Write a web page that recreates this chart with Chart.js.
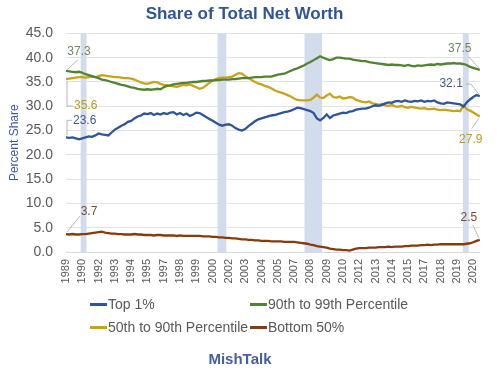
<!DOCTYPE html>
<html>
<head>
<meta charset="utf-8">
<script src="https://cdn.jsdelivr.net/npm/chart.js@4/dist/chart.umd.min.js"></script>
<style>
  html,body{margin:0;padding:0;background:#fff;}
  #wrap{position:relative;width:500px;height:378px;overflow:hidden;font-family:"Liberation Sans",Arial,sans-serif;}
  #c{position:absolute;left:0;top:0;}
  .lg{position:absolute;height:20px;line-height:20px;font-size:14px;color:#595959;white-space:nowrap;}
  .lg i{display:inline-block;width:17px;height:3px;vertical-align:middle;margin-right:1px;position:relative;top:-1px;}
  #mish{position:absolute;left:0;width:480px;top:350px;text-align:center;font-weight:bold;font-size:15px;color:#44609E;}
</style>
</head>
<body>
<div id="wrap">
  <canvas id="c" width="500" height="378"></canvas>
  <div class="lg" style="left:90px;top:294px;"><i style="background:#2F5597"></i>Top 1%</div>
  <div class="lg" style="left:250px;top:294px;"><i style="background:#548235"></i>90th to 99th Percentile</div>
  <div class="lg" style="left:90px;top:317px;"><i style="background:#C9A31C"></i>50th to 90th Percentile</div>
  <div class="lg" style="left:250px;top:317px;"><i style="background:#843C0C"></i>Bottom 50%</div>
  <div id="mish">MishTalk</div>
</div>
<script>
// ---- categories (quarters 1989 Q3 .. 2021 Q2) ----
const quarters = [];
for (let y = 1989; y <= 2021; y++) {
  for (let q = 1; q <= 4; q++) {
    if (y === 1989 && q < 3) continue;
    if (y === 2021 && q > 2) continue;
    quarters.push(y + ' Q' + q);
  }
}
// tick labels shown every 5th quarter
const tickLabels = ['1989','1990','1992','1993','1994','1995','1997','1998','1999','2000','2002','2003','2004','2005','2007','2008','2009','2010','2012','2013','2014','2015','2017','2018','2019','2020'];

// ---- series values (percent share) ----
const top1 = [
  23.6,23.5,23.6,23.4,23.2,23.4,23.6,23.8,23.7,24.0,
  24.4,24.2,24.1,24.0,24.6,25.2,25.6,26.0,26.3,26.8,
  27.0,27.5,27.9,28.1,28.5,28.4,28.6,28.2,28.5,28.3,
  28.6,28.4,28.7,28.8,28.3,28.6,28.2,28.5,28.0,28.3,
  28.7,28.6,28.2,27.8,27.4,27.0,26.6,26.2,26.0,26.2,
  26.3,26.0,25.5,25.2,25.0,25.3,25.9,26.4,26.9,27.3,
  27.5,27.7,27.9,28.1,28.2,28.4,28.6,28.8,28.9,29.1,
  29.4,29.7,29.6,29.4,29.2,29.0,28.6,27.5,27.1,27.6,
  28.3,27.6,28.1,28.3,28.5,28.7,28.6,28.9,29.0,29.3,
  29.4,29.5,29.5,29.7,30.0,30.2,30.1,30.3,30.6,30.8,
  30.7,31.0,31.1,30.9,31.2,31.0,30.9,31.1,31.0,31.2,
  30.9,31.1,31.0,31.2,30.8,30.6,30.5,30.8,30.7,30.6,
  30.5,30.4,29.9,30.8,31.4,31.9,32.3,32.1
];
const p90to99 = [
  37.3,37.2,37.1,37.0,37.1,36.9,36.6,36.4,36.2,36.0,
  35.8,35.5,35.4,35.2,35.0,34.8,34.6,34.4,34.3,34.1,
  33.9,33.8,33.6,33.5,33.4,33.5,33.4,33.5,33.6,33.5,
  33.9,34.2,34.3,34.5,34.6,34.7,34.8,34.8,34.9,35.0,
  35.0,35.1,35.2,35.2,35.3,35.3,35.4,35.4,35.5,35.5,
  35.5,35.6,35.6,35.7,35.8,35.8,35.8,35.9,36.0,36.0,
  36.0,36.1,36.1,36.1,36.3,36.5,36.6,36.7,37.0,37.3,
  37.6,37.8,38.1,38.4,38.8,39.1,39.5,39.9,40.3,40.0,
  39.7,39.5,39.7,40.0,40.0,39.9,39.8,39.8,39.6,39.5,
  39.4,39.3,39.3,39.1,39.0,38.9,38.8,38.7,38.6,38.5,
  38.6,38.5,38.5,38.4,38.3,38.5,38.3,38.2,38.4,38.3,
  38.4,38.5,38.6,38.5,38.7,38.6,38.7,38.8,38.8,38.9,
  38.8,38.8,38.7,38.5,38.1,37.9,37.7,37.5
];
const p50to90 = [
  35.6,35.7,35.8,35.9,36.0,36.0,35.9,36.0,36.1,36.0,
  36.2,36.4,36.3,36.2,36.1,36.0,36.0,35.9,35.8,35.8,
  35.7,35.5,35.2,34.9,34.7,34.6,34.8,35.0,34.9,34.6,
  34.4,34.3,34.2,34.1,34.0,34.2,34.4,34.3,34.5,34.2,
  33.9,33.6,33.8,34.3,34.8,35.3,35.6,35.8,35.9,35.9,
  36.0,36.1,36.5,36.8,36.7,36.2,35.8,35.4,35.0,34.7,
  34.5,34.2,34.0,33.7,33.3,33.0,32.8,32.6,32.3,32.0,
  31.6,31.3,31.2,31.2,31.2,31.3,31.8,32.4,31.8,31.7,
  32.2,32.6,31.9,31.8,32.0,31.6,31.7,31.9,31.8,31.3,
  31.1,30.9,30.8,31.0,30.6,30.5,30.3,30.5,30.2,30.1,
  30.3,30.0,29.9,30.1,29.8,29.7,29.9,29.7,29.6,29.5,
  29.6,29.4,29.4,29.5,29.3,29.2,29.3,29.2,29.1,29.0,
  29.1,29.0,30.2,29.4,29.1,28.7,28.3,27.9
];
const bottom50 = [
  3.7,3.6,3.7,3.6,3.6,3.7,3.7,3.8,3.9,4.0,
  4.1,4.2,4.0,3.9,3.8,3.8,3.7,3.7,3.6,3.6,
  3.6,3.7,3.6,3.6,3.5,3.5,3.5,3.4,3.5,3.5,
  3.4,3.4,3.4,3.4,3.3,3.4,3.3,3.3,3.3,3.3,
  3.3,3.3,3.2,3.2,3.2,3.1,3.1,3.0,3.0,2.9,
  2.9,2.8,2.8,2.7,2.6,2.6,2.5,2.5,2.4,2.4,
  2.3,2.3,2.3,2.2,2.2,2.2,2.2,2.1,2.1,2.1,
  2.1,2.0,1.9,1.8,1.7,1.5,1.4,1.2,1.1,1.0,
  0.9,0.7,0.6,0.5,0.5,0.4,0.4,0.3,0.5,0.7,
  0.8,0.8,0.8,0.9,0.9,0.9,1.0,1.0,1.0,1.1,
  1.0,1.1,1.1,1.1,1.2,1.2,1.3,1.3,1.3,1.4,
  1.4,1.5,1.4,1.5,1.5,1.6,1.6,1.6,1.6,1.6,
  1.6,1.6,1.6,1.7,1.8,2.0,2.3,2.5
];
const seriesNames = ['Top 1%','90th to 99th Percentile','50th to 90th Percentile','Bottom 50%'];
// recession periods as quarter-index ranges
const recessions = [[4.5,6.3],[46.5,49.2],[73.2,78.6],[121.8,123.6]];

// ---- styles ----
const colors = ['#2F5597','#548235','#C9A31C','#843C0C'];
const labelColors = ['#44598A','#6F8A5A','#B99A2A','#7A4A32'];
// data label callouts: dataset, which end, leader path offsets (from point), text offset & align
const callouts = [
  {ds:1, end:'first', path:[[1,-1],[12,-11]], text:[13,-19], align:'center'},
  {ds:2, end:'first', path:[[1,2],[1,27],[7,27]], text:[8,27], align:'left'},
  {ds:0, end:'first', path:[[1,-2],[1,-17],[6,-17]], text:[7,-17], align:'left'},
  {ds:3, end:'first', path:[[1,-2],[14,-18]], text:[23,-22], align:'center'},
  {ds:1, end:'last', path:[[-1,-2],[-11,-13]], text:[-20,-21], align:'center'},
  {ds:0, end:'last', path:[[-1,-2],[-9,-12],[-14,-12]], text:[-17,-12], align:'right'},
  {ds:2, end:'last', path:[[-1,2],[-8,12]], text:[-9,23], align:'center'},
  {ds:3, end:'last', path:[[-1,-2],[-7,-15]], text:[-11,-22], align:'center'}
];

const bandPlugin = {
  id: 'bands',
  beforeDatasetsDraw(chart) {
    const {ctx, chartArea, scales:{x}} = chart;
    ctx.save();
    ctx.fillStyle = '#D2DCEC';
    recessions.forEach(([s,e]) => {
      const x1 = x.getPixelForValue(s), x2 = x.getPixelForValue(e);
      ctx.fillRect(x1, chartArea.top, x2 - x1, chartArea.bottom - chartArea.top);
    });
    ctx.restore();
  }
};

const calloutPlugin = {
  id: 'callouts',
  afterDatasetsDraw(chart) {
    const ctx = chart.ctx;
    ctx.save();
    callouts.forEach(c => {
      const meta = chart.getDatasetMeta(c.ds);
      const data = chart.data.datasets[c.ds].data;
      const i = c.end === 'first' ? 0 : data.length - 1;
      const pt = meta.data[i];
      ctx.strokeStyle = '#A6A6A6';
      ctx.lineWidth = 0.8;
      ctx.beginPath();
      c.path.forEach(([dx,dy],k) => {
        if (k === 0) ctx.moveTo(pt.x + dx, pt.y + dy); else ctx.lineTo(pt.x + dx, pt.y + dy);
      });
      ctx.stroke();
      ctx.font = '12px "Liberation Sans", Arial, sans-serif';
      ctx.fillStyle = labelColors[c.ds];
      ctx.textAlign = c.align;
      ctx.textBaseline = 'middle';
      ctx.fillText(data[i].toFixed(1), pt.x + c.text[0], pt.y + c.text[1]);
    });
    ctx.restore();
  }
};

const seriesData = [top1, p90to99, p50to90, bottom50];
new Chart(document.getElementById('c'), {
  type: 'line',
  data: {
    labels: quarters,
    datasets: seriesData.map((d, k) => ({
      label: seriesNames[k],
      data: d,
      borderColor: colors[k],
      backgroundColor: colors[k],
      borderWidth: 2.3,
      pointRadius: 0,
      tension: 0,
      fill: false
    }))
  },
  options: {
    responsive: false,
    animation: false,
    devicePixelRatio: 1,
    layout: { padding: { left: 0, right: 11, top: 0, bottom: 86 } },
    plugins: {
      legend: { display: false },
      tooltip: { enabled: false },
      title: {
        display: true,
        text: 'Share of Total Net Worth',
        color: '#2F5597',
        font: { family: '"Liberation Sans", Arial, sans-serif', size: 17, weight: 'bold' },
        padding: { top: 4, bottom: 9 }
      }
    },
    scales: {
      x: {
        type: 'category',
        offset: false,
        grid: { display: false, drawTicks: false },
        border: { display: true, color: '#D9D9D9' },
        ticks: {
          autoSkip: false, maxRotation: 90, minRotation: 90, padding: 7,
          color: '#595959',
          font: { family: '"Liberation Sans", Arial, sans-serif', size: 11 },
          callback: (v, i) => (i % 5 === 0 ? tickLabels[i / 5] : '')
        },
        afterFit(scale) { scale.height = 40; }
      },
      y: {
        min: 0, max: 45,
        grid: { color: '#E3E3E3', drawTicks: false },
        border: { display: false },
        ticks: {
          stepSize: 5, padding: 13, color: '#595959',
          font: { family: '"Liberation Sans", Arial, sans-serif', size: 14 },
          callback: v => Number(v).toFixed(1)
        },
        title: {
          display: true, text: 'Percent Share', color: '#3D5C9C',
          font: { family: '"Liberation Sans", Arial, sans-serif', size: 12 },
          padding: { top: 7, bottom: 0 }
        },
        afterFit(scale) { scale.width = 66; }
      }
    }
  },
  plugins: [bandPlugin, calloutPlugin]
});
</script>
</body>
</html>
